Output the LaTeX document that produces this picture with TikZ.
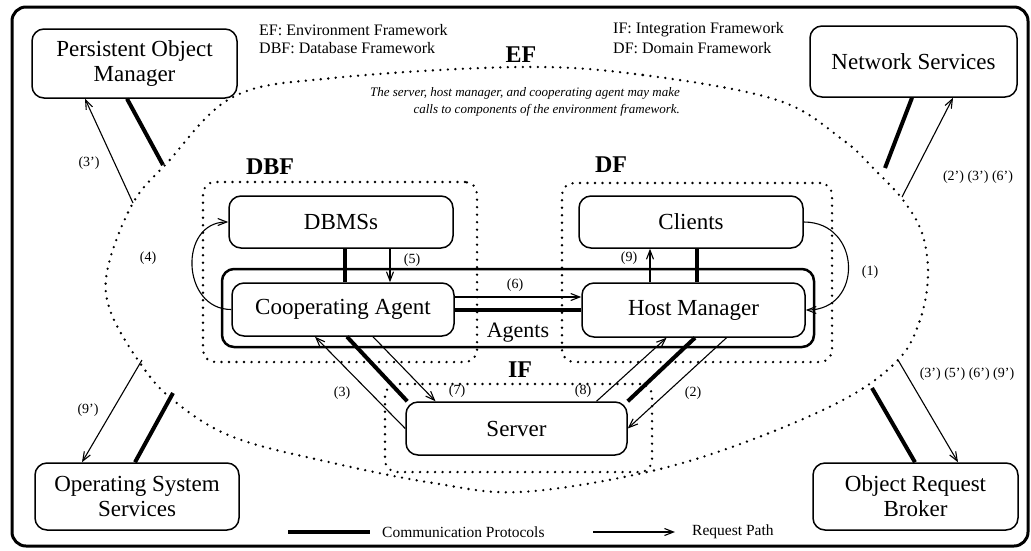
\documentclass[tikz,border=0pt]{standalone}
\usepackage{fontspec}
\setmainfont{Liberation Serif}
\usetikzlibrary{arrows.meta}

\begin{document}
\begin{tikzpicture}[x=1pt, y=-1pt,
    box/.style={draw, line width=1.5pt, rounded corners=12pt, inner sep=0pt,
      align=center, font=\fontsize{23}{25}\selectfont},
    fwbox/.style={draw, line width=2.6pt, line cap=round, dash pattern=on 0pt off 7.5pt,
      rounded corners=12pt, inner sep=0pt},
    fwname/.style={font=\bfseries\fontsize{24}{26}\selectfont},
    lbl/.style={inner sep=0pt, font=\fontsize{14}{16}\selectfont},
    key/.style={inner sep=0pt, anchor=west, font=\fontsize{16}{18}\selectfont},
    req/.style={line width=1.1pt, -{Straight Barb[length=9pt,width=7pt]}},
    proto/.style={line width=4pt}]
  \useasboundingbox (0,0) rectangle (1031,550);
  \draw[line width=3pt, rounded corners=14pt] (12,7) rectangle (1028,546);

  \node[key] at (259,30) {EF: Environment Framework};
  \node[key] at (259,48) {DBF: Database Framework};
  \node[key] at (613,30) {IF: Integration Framework};
  \node[key] at (613,48) {DF: Domain Framework};
  \node[fwname] (ef) at (521,55) {EF};
  \node[inner sep=0pt, align=right, font=\itshape\fontsize{13}{17}\selectfont] (note) at (525,102)
    {The server, host manager, and cooperating agent may make\\calls to components of the environment framework.};

  \draw[line width=2.6pt, line cap=round, dash pattern=on 0pt off 7.5pt]
    plot[smooth cycle, tension=0.6] coordinates {
      (520,67) (643,75) (777,100) (843,140) (875,170) (903,200) (922,233)
      (928,275) (920,320) (898,360) (843,400) (743,443) (643,473) (520,492)
      (433,483) (333,463) (233,437) (173,400) (140,363) (110,310) (108,267)
      (133,203) (167,163) (233,97) (333,78)};

  \node[fwbox, minimum width=274pt, minimum height=180pt] (dbf) at (340,272) {};
  \node[fwbox, minimum width=270pt, minimum height=179pt] (df) at (697,272.5) {};
  \node[fwbox, minimum width=267pt, minimum height=88pt] (if) at (518.5,428) {};
  \node[fwname] at (270,167) {DBF};
  \node[fwname] at (611,165) {DF};
  \node[fwname] at (520,370) {IF};

  \node[box, minimum width=205pt, minimum height=69pt] (pom) at (134.5,63.5) {Persistent Object\\Manager};
  \node[box, minimum width=207pt, minimum height=71pt] (ns) at (913.5,61.5) {Network Services};
  \node[box, minimum width=204pt, minimum height=67pt] (oss) at (137,496.5) {Operating System\\Services};
  \node[box, minimum width=205pt, minimum height=67pt] (orb) at (915.5,496.5) {Object Request\\Broker};

  \node[draw, line width=2.5pt, rounded corners=12pt, minimum width=592pt, minimum height=78pt] (agents) at (518,308) {};
  \node[inner sep=0pt, font=\fontsize{22}{24}\selectfont] at (518,333) {Agents};
  \node[box, minimum width=224pt, minimum height=52pt] (dbms) at (341,222) {DBMSs};
  \node[box, minimum width=224pt, minimum height=52pt] (cl) at (691,222) {Clients};
  \node[box, minimum width=222pt, minimum height=53pt] (ca) at (343,309.5) {Cooperating Agent};
  \node[box, minimum width=223pt, minimum height=54pt] (hm) at (693.5,310) {Host Manager};
  \node[box, minimum width=221pt, minimum height=53pt] (srv) at (516.5,428.5) {Server};

  \coordinate (pomc) at (163,165);
  \coordinate (pomr) at (133,203);
  \coordinate (nsc) at (885,168);
  \coordinate (nsr) at (902,197);
  \coordinate (ossc) at (173,393);
  \coordinate (ossr) at (142,360);
  \coordinate (orbc) at (872,388);
  \coordinate (orbr) at (898,360);

  \draw[proto] ([xshift=-7.5pt]pom.south) -- (pomc);
  \draw[req] (pomr) -- ([xshift=-49.5pt]pom.south);
  \draw[proto] ([xshift=-1.5pt]ns.south) -- (nsc);
  \draw[req] (nsr) -- ([xshift=39.5pt]ns.south);
  \draw[proto] (ossc) -- ([xshift=-2pt]oss.north);
  \draw[req] (ossr) -- ([xshift=-55pt]oss.north);
  \draw[proto] (orbc) -- ([xshift=-0.5pt]orb.north);
  \draw[req] (orbr) -- ([xshift=42.5pt]orb.north);

  \draw[proto] ([xshift=4pt]dbms.south) -- ([xshift=2pt]ca.north);
  \draw[req] ([xshift=49pt]dbms.south) -- ([xshift=47pt]ca.north);
  \draw[proto] ([xshift=6pt]cl.south) -- ([xshift=3.5pt]hm.north);
  \draw[req] ([xshift=-43.5pt]hm.north) -- ([xshift=-41pt]cl.south);
  \draw[req] ([yshift=12.5pt]ca.east) -- ([yshift=13pt]hm.west);
  \draw[proto] (ca.east) -- (ca.east -| hm.west);
  \draw[req] (ca.west) .. controls ++(-50,0) and ++(-50,0) .. (dbms.west);
  \draw[req] (cl.east) .. controls ++(58,0) and ++(58,0) .. (hm.east);

  \draw[req] (srv.west) -- ([xshift=-28pt]ca.south);
  \draw[proto] ([xshift=4pt]ca.south) -- ([xshift=2pt]srv.north west);
  \draw[req] ([xshift=30pt]ca.south) -- ([xshift=-81pt]srv.north);
  \draw[req] ([xshift=80pt]srv.north) -- ([xshift=-27pt]hm.south);
  \draw[proto] ([xshift=1.5pt]hm.south) -- (srv.north east);
  \draw[req] ([xshift=33pt]hm.south) -- (srv.east);

  \node[lbl] at (89,163) {(3')};
  \node[lbl] at (978,177) {(2') (3') (6')};
  \node[lbl] at (88,410) {(9')};
  \node[lbl] at (967,374) {(3') (5') (6') (9')};
  \node[lbl] at (148,258) {(4)};
  \node[lbl] at (412,260) {(5)};
  \node[lbl] at (629,258) {(9)};
  \node[lbl] at (515,285) {(6)};
  \node[lbl] at (870,272) {(1)};
  \node[lbl] at (342,393) {(3)};
  \node[lbl] at (457,391) {(7)};
  \node[lbl] at (583,391) {(8)};
  \node[lbl] at (693,393) {(2)};

  \coordinate (k1) at (288,532);
  \coordinate (k2) at (370,532);
  \coordinate (k3) at (593,532);
  \coordinate (k4) at (675,532);
  \draw[proto] (k1) -- (k2);
  \node[key, font=\fontsize{15.5}{17}\selectfont] at (382,532) {Communication Protocols};
  \draw[req] (k3) -- (k4);
  \node[key, font=\fontsize{15.5}{17}\selectfont] at (692,532) {Request Path};
\end{tikzpicture}
\end{document}
